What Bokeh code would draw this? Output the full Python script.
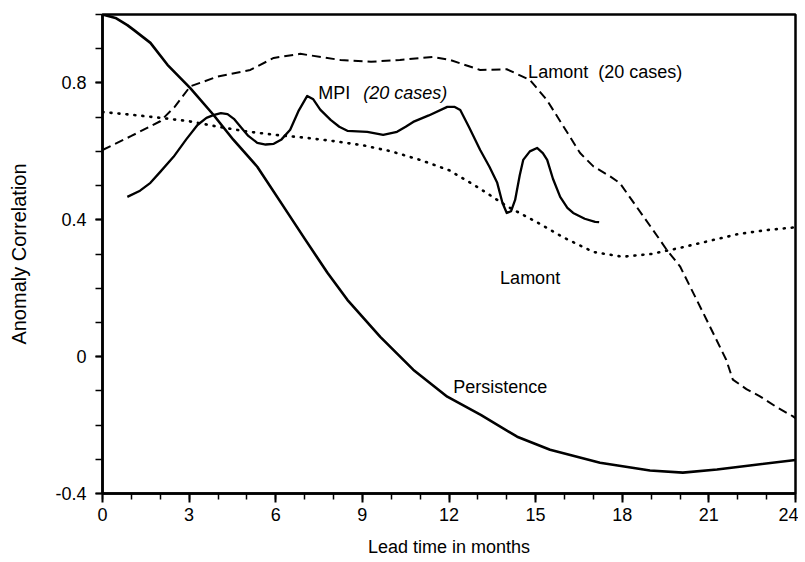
from bokeh.plotting import figure
from bokeh.models import FixedTicker, Label, Range1d
from bokeh.embed import file_html
from bokeh.resources import INLINE

# Persistence (solid)
persist_x = [0, 0.45, 0.86, 1.08, 1.66, 2.25, 3.04, 3.84, 4.53, 5.36, 6.26, 7.0, 7.79, 8.48,
             9.62, 10.76, 11.94, 13.1, 14.36, 15.5, 17.23, 18.96, 20.1, 21.28, 22.42, 24.0]
persist_y = [1.0, 0.99, 0.969, 0.955, 0.917, 0.853, 0.785, 0.707, 0.634, 0.555, 0.44, 0.345,
             0.245, 0.166, 0.058, -0.038, -0.117, -0.17, -0.234, -0.272, -0.31, -0.333,
             -0.339, -0.33, -0.318, -0.302]

# MPI (20 cases) (solid)
mpi_x = [0.86, 1.3, 1.66, 2.0, 2.46, 2.9, 3.29, 3.6, 3.84, 4.1, 4.33, 4.55, 4.78, 5.05, 5.36,
         5.65, 5.93, 6.2, 6.5, 6.8, 7.09, 7.3, 7.54, 7.9, 8.2, 8.48, 9.17, 9.72, 10.2, 10.5,
         10.76, 11.3, 11.94, 12.2, 12.39, 12.7, 13.08, 13.4, 13.67, 13.85, 14.0, 14.15, 14.29,
         14.45, 14.57, 14.8, 15.05, 15.25, 15.4, 15.6, 15.85, 16.1, 16.3, 16.7, 17.06, 17.2]
mpi_y = [0.467, 0.485, 0.508, 0.54, 0.584, 0.635, 0.677, 0.698, 0.706, 0.712, 0.709, 0.695,
         0.672, 0.645, 0.625, 0.62, 0.622, 0.635, 0.663, 0.72, 0.762, 0.752, 0.722, 0.692,
         0.672, 0.66, 0.657, 0.648, 0.657, 0.672, 0.686, 0.705, 0.73, 0.73, 0.721, 0.67,
         0.604, 0.555, 0.508, 0.45, 0.42, 0.425, 0.458, 0.53, 0.575, 0.6, 0.61, 0.595, 0.575,
         0.52, 0.467, 0.435, 0.42, 0.403, 0.394, 0.393]

# Lamont (20 cases) (dashed)
lam20_x = [0, 1.0, 2.0, 2.5, 3.04, 3.97, 5.12, 5.93, 6.85, 8.24, 9.3, 10.3, 11.45, 12.04, 13.08,
           14.0, 14.8, 15.39, 15.97, 16.54, 17.0, 17.58, 17.92, 18.73, 19.3, 19.54, 20.0,
           20.92, 21.6, 21.83, 22.3, 22.77, 23.3, 23.9, 24.0]
lam20_y = [0.604, 0.645, 0.688, 0.73, 0.79, 0.818, 0.838, 0.873, 0.885, 0.867, 0.862, 0.867,
           0.876, 0.867, 0.838, 0.84, 0.809, 0.75, 0.672, 0.595, 0.556, 0.527, 0.507, 0.41,
           0.342, 0.312, 0.264, 0.108, -0.009, -0.067, -0.095, -0.116, -0.145, -0.174, -0.18]

# Lamont (dotted)
lam_x = [0, 1, 2, 3, 4, 5, 6, 7, 8, 9, 10, 11, 12, 13, 14, 15, 16, 17, 18, 19, 20, 21, 22, 23, 24]
lam_y = [0.715, 0.707, 0.698, 0.688, 0.672, 0.658, 0.648, 0.64, 0.63, 0.618, 0.6, 0.575, 0.545,
         0.495, 0.44, 0.395, 0.347, 0.306, 0.292, 0.3, 0.318, 0.338, 0.358, 0.37, 0.378]

x_ticks = [0, 3, 6, 9, 12, 15, 18, 21, 24]
x_minor = list(range(0, 25))
y_ticks = [-0.4, 0.0, 0.4, 0.8]
y_tick_labels = ["-0.4", "0", "0.4", "0.8"]
y_minor = [-0.4, -0.3, -0.2, -0.1, 0.0, 0.1, 0.2, 0.3, 0.4, 0.5, 0.6, 0.7, 0.8, 0.9, 1.0]

FONT = "Liberation Sans"

p = figure(frame_width=693, frame_height=479,
           x_range=Range1d(0, 24), y_range=Range1d(-0.4, 1.0),
           output_backend="svg", toolbar_location=None,
           min_border_left=102, min_border_top=14, min_border_right=3, min_border_bottom=5)

p.grid.visible = False
p.outline_line_color = "black"
p.outline_line_width = 2.5
p.background_fill_color = "white"
p.border_fill_color = "white"

p.xaxis.ticker = FixedTicker(ticks=x_ticks, minor_ticks=x_minor)
p.yaxis.ticker = FixedTicker(ticks=y_ticks, minor_ticks=y_minor)
p.yaxis.major_label_overrides = {t: l for t, l in zip(y_ticks, y_tick_labels)}

for ax in (p.xaxis[0], p.yaxis[0]):
    ax.axis_line_width = 2.5
    ax.axis_line_color = "black"
    ax.major_tick_line_width = 2
    ax.minor_tick_line_width = 1.5
    ax.major_tick_in = 0
    ax.minor_tick_in = 0
    ax.major_label_text_font = FONT
    ax.major_label_text_font_size = "18px"
    ax.major_label_text_color = "black"
    ax.axis_label_text_font = FONT
    ax.axis_label_text_font_style = "normal"
    ax.axis_label_text_color = "black"

p.xaxis.major_tick_out = 9
p.xaxis.minor_tick_out = 6
p.xaxis.major_label_standoff = 5
p.xaxis.axis_label = "Lead time in months"
p.xaxis.axis_label_text_font_size = "18px"
p.xaxis.axis_label_standoff = 13

p.yaxis.major_tick_out = 7
p.yaxis.minor_tick_out = 7
p.yaxis.major_label_standoff = 9
p.yaxis.axis_label = "Anomaly Correlation"
p.yaxis.axis_label_text_font_size = "20px"
p.yaxis.axis_label_standoff = 22

p.line(lam_x, lam_y, line_color="black", line_width=2.6, line_dash="1 7", line_cap="round")
p.line(lam20_x, lam20_y, line_color="black", line_width=2.0, line_dash="9 5")
p.line(mpi_x, mpi_y, line_color="black", line_width=2.3, line_join="round")
p.line(persist_x, persist_y, line_color="black", line_width=2.6, line_join="round")

common = dict(text_font=FONT, text_font_size="18px", text_color="black", text_baseline="middle")
p.add_layout(Label(x=14.74, y=0.832, text="Lamont\u00a0 (20 cases)", **common))
p.add_layout(Label(x=7.47, y=0.771, text="MPI", **common))
p.add_layout(Label(x=9.03, y=0.771, text="(20 cases)", text_font_style="italic", **common))
p.add_layout(Label(x=13.77, y=0.231, text="Lamont", **common))
p.add_layout(Label(x=12.15, y=-0.088, text="Persistence", **common))

open("out.html", "w").write(file_html(p, INLINE))
